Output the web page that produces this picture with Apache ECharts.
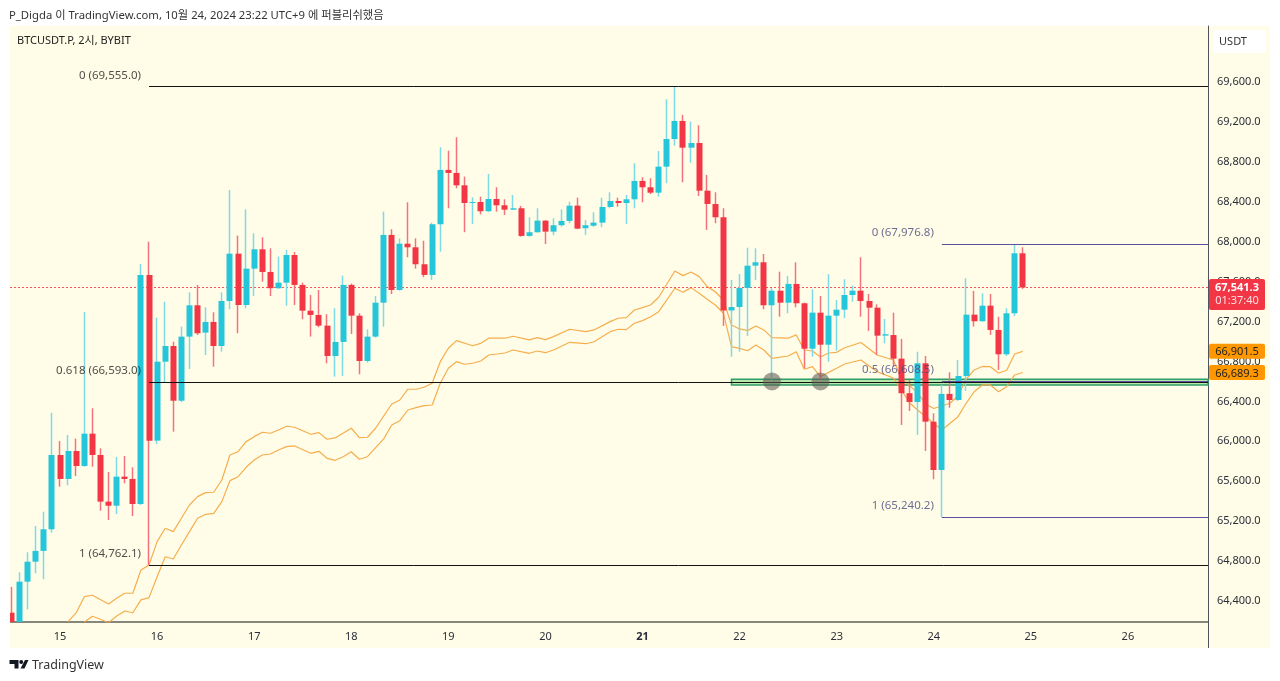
<!DOCTYPE html>
<html>
<head>
<meta charset="utf-8" />
<title>BTCUSDT.P 2시</title>
<script src="https://cdn.jsdelivr.net/npm/echarts@6/dist/echarts.min.js"></script>
<style>
html, body { margin: 0; padding: 0; background: #fff; }
#main { width: 1280px; height: 681px; }
</style>
</head>
<body>
<div id="main"></div>
<script>
// candles, one per 2h
const opens = [64283,64190,64594,64794,64902,65119,65863,65623,65903,65753,66077,65863,65396,65355,65646,65623,65372,67667,66007,66798,66955,66407,67049,67363,67089,67196,66955,67406,67880,67366,67730,67924,67697,67534,67590,67867,67567,67309,67266,67159,66855,66996,67567,67259,66805,67049,67389,68068,67516,67980,67944,67774,67667,68175,68719,68689,68565,68388,68398,68305,68428,68365,68321,68335,68058,68095,68211,68101,68165,68208,68361,68135,68160,68191,68348,68408,68388,68425,68609,68545,68491,68752,69029,69210,68942,68989,68511,68378,68245,67311,67346,67537,67760,67794,67363,67509,67389,67577,67383,66928,67289,66968,67259,67319,67466,67509,67406,67339,67059,67065,66828,66482,66394,66782,66197,65713,66475,66414,66655,67269,67203,67359,67116,66872,67283,67884];
const closes = [64190,64594,64794,64902,65119,65863,65623,65903,65753,66077,65863,65396,65355,65646,65623,65372,67667,66007,66798,66955,66407,67049,67363,67083,67196,66955,67406,67880,67366,67730,67924,67697,67534,67590,67867,67567,67309,67266,67159,66855,66996,67567,67259,66805,67049,67389,68068,67516,67980,67944,67774,67667,68175,68719,68689,68565,68388,68398,68305,68428,68365,68321,68335,68058,68095,68211,68101,68165,68208,68361,68131,68165,68191,68348,68408,68388,68425,68609,68545,68491,68752,69029,69210,68942,68989,68511,68378,68245,67311,67346,67537,67760,67794,67363,67509,67389,67577,67383,66928,67289,66968,67259,67319,67466,67509,67406,67339,67059,67073,66828,66482,66394,66782,66197,65713,66475,66414,66655,67269,67203,67359,67116,66872,67283,67884,67541.3];
const lows = [64190,64190,64317,64678,64618,65085,65546,65560,65653,65746,65746,65305,65212,65272,65580,65252,65362,64762,65974,66585,66097,66394,66725,67066,66865,66748,66898,67323,67083,67333,67456,67600,67456,67527,67359,67366,67223,67049,67143,66782,66648,66655,67076,66672,66788,67040,67149,67476,67510,67844,67730,67644,67617,67900,68335,68535,68095,68178,68275,68300,68301,68268,68320,68050,68050,68090,67977,68065,68151,68185,68125,68068,68150,68145,68335,68351,68178,68335,68395,68478,68451,68586,68962,68596,68792,68458,68118,68185,67156,66848,66898,67056,67617,67323,66615,67249,67283,67343,66732,66848,66615,66798,66908,67233,67399,67249,67106,66865,66982,66748,66164,66304,66064,65903,65620,65240,66337,66405,66505,67149,67200,67066,66715,66855,67256,67527];
const highs = [64541,64688,64889,65152,65295,66287,66004,66064,66027,67296,66331,65930,65693,65843,65853,65740,67777,68000,67239,67399,66998,67149,67493,67567,67343,67293,67493,68518,68061,68325,68085,68044,67934,67850,67917,67897,67590,67466,67516,67273,67333,67660,67580,67283,67123,67456,68301,68125,68034,68395,68034,68010,68190,68946,68912,69046,68652,68445,68451,68679,68545,68425,68468,68358,68245,68335,68215,68235,68325,68401,68441,68218,68295,68441,68495,68441,68468,68786,68646,68636,68909,69427,69555,69270,69203,69167,68669,68495,68335,67617,67677,67940,67934,67877,67534,67700,67657,67794,67390,67523,67456,67674,67416,67624,67560,67844,67476,67373,67226,67289,67026,66615,66898,66855,66281,66565,66692,66815,67634,67506,67483,67476,67249,67333,67967,67944];

// the two orange envelope lines, [candle index, price]
const bandUpper = [[7,64193],[8,64283],[9,64444],[10,64458],[12,64371],[13,64428],[14,64478],[15,64478],[16,64711],[17,64762],[18,64995],[19,65129],[20,65095],[21,65229],[22,65362],[23,65446],[24,65486],[25,65490],[26,65613],[27,65863],[28,65896],[29,65997],[30,66047],[31,66091],[32,66081],[33,66114],[34,66151],[35,66141],[37,66071],[38,66087],[39,66021],[40,66034],[42,66131],[43,66037],[44,66041],[45,66131],[47,66374],[48,66414],[49,66522],[50,66522],[51,66542],[52,66582],[53,66798],[54,66932],[55,67009],[57,66958],[58,66982],[59,67033],[61,67033],[62,67053],[64,67016],[65,67039],[66,67019],[67,67049],[69,67123],[71,67099],[72,67116],[74,67199],[75,67233],[76,67239],[77,67316],[78,67339],[79,67366],[80,67443],[82,67707],[83,67660],[84,67697],[85,67650],[86,67550],[87,67499],[88,67416],[89,67166],[90,67126],[91,67109],[92,67156],[93,67116],[94,67039],[96,67033],[97,67066],[98,66915],[99,66905],[100,66845],[101,66885],[102,66892],[103,66938],[105,66990],[107,66865],[109,66815],[110,66635],[112,66485],[113,66374],[114,66329],[116,66381],[117,66454],[118,66622],[119,66715],[120,66750],[121,66748],[122,66685],[123,66710],[124,66875],[125,66901.5]];
const bandLower = [[9,64190],[10,64247],[11,64217],[12,64183],[13,64250],[14,64300],[15,64283],[16,64411],[17,64434],[18,64644],[19,64844],[20,64821],[21,64962],[22,65095],[23,65229],[24,65269],[25,65279],[26,65396],[27,65606],[28,65646],[29,65740],[30,65813],[31,65863],[32,65873],[33,65913],[34,65947],[35,65954],[37,65880],[38,65900],[39,65830],[40,65810],[41,65846],[42,65896],[43,65820],[44,65846],[46,66024],[47,66164],[48,66207],[49,66314],[50,66337],[51,66357],[52,66364],[53,66582],[54,66732],[55,66798],[56,66772],[57,66782],[58,66805],[59,66865],[61,66885],[62,66915],[64,66882],[65,66905],[66,66888],[67,66915],[69,66992],[71,66978],[72,66998],[74,67099],[75,67123],[76,67119],[77,67183],[78,67209],[79,67249],[80,67299],[82,67534],[83,67493],[84,67540],[85,67483],[86,67423],[87,67366],[88,67283],[89,66948],[90,66932],[91,66908],[92,66965],[93,66915],[94,66832],[96,66855],[97,66898],[98,66722],[99,66748],[100,66648],[102,66732],[103,66775],[105,66815],[107,66698],[109,66635],[110,66515],[111,66387],[112,66314],[115,66114],[117,66247],[118,66381],[119,66497],[120,66565],[121,66565],[122,66497],[123,66548],[124,66665],[125,66689.3]];

// fib levels drawn by hand on the original: [start candle, price, text]
const blackLevels = [[17,69555.0,'0 (69,555.0)'],[17,66593.0,'0.618 (66,593.0)'],[17,64762.1,'1 (64,762.1)']];
const purpleLevels = [[115,67976.8,'0 (67,976.8)'],[115,66608.5,'0.5 (66,608.5)'],[115,65240.2,'1 (65,240.2)']];

const zoneStart = 89, zoneTop = 66622, zoneBottom = 66565;
const circleMarks = [[94,66600],[100,66600]];
const lastPrice = 67541.3;

const dayIndex = [6,18,30,42,54,66,78,90,102,114,126,138];
const dayLabels = ['15','16','17','18','19','20','21','22','23','24','25','26'];
const priceTicks = [64400,64800,65200,65600,66000,66400,66800,67200,67600,68000,68400,68800,69200,69600];

const xMin = -0.185, xMax = 147.9;
const yMin = 64190, yMax = 70161;

const UP = '#26c6da', DOWN = '#f23645';
const fontName = '"Noto Sans", "Noto Sans CJK KR", sans-serif';

const wickData = opens.map((o, i) => [i, o, closes[i], lows[i], highs[i]]);
const bodyData = opens.map((o, i) => [i, o, closes[i], Math.min(o, closes[i]), Math.max(o, closes[i])]);

// horizontal levels, snapped to a pixel row so they stay crisp
function levelSeries(levels, color, z) {
    return {
        type: 'custom', silent: true, z: z, clip: true,
        encode: { x: 0, y: 1 },
        data: levels.map(l => [l[0], l[1]]),
        renderItem: (params, api) => {
            const a = api.coord([api.value(0), api.value(1)]);
            const b = api.coord([xMax, api.value(1)]);
            const y = Math.round(a[1]) + 0.5;
            return { type: 'line', shape: { x1: a[0], y1: y, x2: b[0], y2: y }, style: { stroke: color, lineWidth: 1 } };
        }
    };
}
function levelText(levels, color, gap, up) {
    return {
        type: 'scatter', silent: true, symbolSize: 0, z: 9,
        data: levels.map(l => ({
            value: [l[0], l[1]],
            label: {
                show: true, position: 'left', distance: gap, offset: [0, up],
                formatter: l[2], color: color, fontFamily: fontName, fontSize: 11.5
            }
        }))
    };
}

var myChart = echarts.init(document.getElementById('main'));
myChart.setOption({
    animation: false,
    grid: { left: 10, right: 72, top: 26, bottom: 59 },
    xAxis: {
        type: 'value', min: xMin, max: xMax, splitLine: { show: false },
        axisLine: { onZero: false, lineStyle: { color: '#5f5f58', width: 1.5 } },
        axisTick: { show: false },
        axisLabel: {
            customValues: dayIndex, color: '#2a2e39', fontFamily: fontName, fontSize: 11, margin: 9,
            formatter: v => {
                const s = dayLabels[dayIndex.indexOf(v)];
                return s === '21' ? '{b|' + s + '}' : s;
            },
            rich: { b: { fontWeight: 'bold', color: '#2a2e39', fontFamily: fontName, fontSize: 11 } }
        }
    },
    yAxis: {
        type: 'value', position: 'right', min: yMin, max: yMax, scale: true, splitLine: { show: false },
        axisLine: { show: true, onZero: false, lineStyle: { color: '#50535e', width: 1 } },
        axisTick: { show: false },
        axisLabel: {
            customValues: priceTicks, color: '#2a2e39', fontFamily: fontName, fontSize: 11, margin: 9,
            padding: [2, 0, 0, 0],
            formatter: v => v.toLocaleString('en-US', { minimumFractionDigits: 1 })
        }
    },
    series: [
        { type: 'line', silent: true, showSymbol: false, z: 1, data: bandUpper, lineStyle: { color: '#f6ad4e', width: 1.2 } },
        { type: 'line', silent: true, showSymbol: false, z: 1, data: bandLower, lineStyle: { color: '#f6ad4e', width: 1.2 } },
        {
            type: 'line', silent: true, showSymbol: false, z: 1, data: [[xMin, lastPrice], [xMax, lastPrice]],
            lineStyle: { color: '#f7525f', width: 1, type: [2, 2], opacity: 1 }
        },
        {
            type: 'candlestick', silent: true, z: 2, barWidth: 1, data: wickData,
            itemStyle: { color: '#7fdae8', color0: '#f4727d', borderColor: '#7fdae8', borderColor0: '#f4727d', borderWidth: 1.5 }
        },
        {
            type: 'candlestick', silent: true, z: 3, barWidth: 6.5, data: bodyData,
            itemStyle: { color: UP, color0: DOWN, borderColor: UP, borderColor0: DOWN, borderWidth: 0 }
        },
        {
            type: 'line', silent: true, showSymbol: false, z: 4, data: [],
            markArea: {
                silent: true,
                itemStyle: { color: 'rgba(120,215,120,0.55)', borderColor: '#2f9e6a', borderWidth: 1.5 },
                data: [[{ xAxis: zoneStart, yAxis: zoneTop }, { xAxis: xMax, yAxis: zoneBottom }]]
            }
        },
        levelSeries(blackLevels, '#111', 6),
        levelSeries(purpleLevels, '#5b4fa0', 5),
        {
            type: 'scatter', silent: true, z: 7, symbolSize: 18, data: circleMarks,
            itemStyle: { color: 'rgba(92,92,84,0.72)' }
        },
        levelText(blackLevels, '#222', 8, -11),
        levelText(purpleLevels, '#4a4880', 8, -11)
    ]
});

// price tags on the scale follow the axis, panel and header are plain drawing
const py = v => myChart.convertToPixel({ yAxisIndex: 0 }, v);
const tagFont = '11px ' + fontName;
function priceTag(value, txt, fill, color) {
    return [
        { type: 'rect', z: 100, shape: { x: 1209, y: py(value) - 7.5, width: 56, height: 15, r: 2 }, style: { fill: fill } },
        { type: 'text', z: 101, x: 1237, y: py(value) + 1, style: { text: txt, font: tagFont, fill: color, align: 'center', verticalAlign: 'middle' } }
    ];
}
myChart.setOption({
    graphic: [
        { type: 'rect', z: -10, shape: { x: 10, y: 26, width: 1260, height: 622 }, style: { fill: '#fffde7' } },
        { type: 'rect', z: 50, shape: { x: 0, y: 560, width: 10, height: 80 }, style: { fill: '#fff' } },
        { type: 'line', z: 20, shape: { x1: 1208.5, y1: 622, x2: 1208.5, y2: 648 }, style: { stroke: '#50535e', lineWidth: 1 } },
        { type: 'text', x: 9, y: 15.5, style: { text: 'P_Digda 이 TradingView.com, 10월 24, 2024 23:22 UTC+9 에 퍼블리쉬했음', font: '11.3px ' + fontName, fill: '#333', verticalAlign: 'middle' } },
        { type: 'text', z: 20, x: 17, y: 41, style: { text: 'BTCUSDT.P, 2시, BYBIT', font: '11px ' + fontName, fill: '#222', verticalAlign: 'middle' } },
        { type: 'rect', z: 20, shape: { x: 1213, y: 30, width: 53, height: 23, r: 4 }, style: { fill: '#fff' } },
        { type: 'text', z: 21, x: 1233, y: 42, style: { text: 'USDT', font: '11px ' + fontName, fill: '#333', align: 'center', verticalAlign: 'middle' } },
        { type: 'rect', z: 100, shape: { x: 1209, y: py(lastPrice) - 8.5, width: 56, height: 31, r: 2 }, style: { fill: DOWN } },
        { type: 'text', z: 101, x: 1237, y: py(lastPrice) + 0.5, style: { text: '67,541.3', font: 'bold 11px ' + fontName, fill: '#fff', align: 'center', verticalAlign: 'middle' } },
        { type: 'text', z: 101, x: 1237, y: py(lastPrice) + 13.5, style: { text: '01:37:40', font: tagFont, fill: '#fde0e3', align: 'center', verticalAlign: 'middle' } },
        ...priceTag(66901.5, '66,901.5', '#ff9800', '#222'),
        ...priceTag(66689.3, '66,689.3', '#ff9800', '#222'),
        { type: 'polygon', shape: { points: [[9.5,660],[18.5,660],[18.5,668.5],[14.5,668.5],[14.5,664],[9.5,664]] }, style: { fill: '#131722' } },
        { type: 'circle', shape: { cx: 21.2, cy: 662, r: 2 }, style: { fill: '#131722' } },
        { type: 'polygon', shape: { points: [[25,660],[28.5,660],[24.5,668.5],[20.5,668.5]] }, style: { fill: '#131722' } },
        { type: 'text', x: 32, y: 665, style: { text: 'TradingView', font: '12.5px ' + fontName, fill: '#333', verticalAlign: 'middle' } }
    ]
});
</script>
</body>
</html>
